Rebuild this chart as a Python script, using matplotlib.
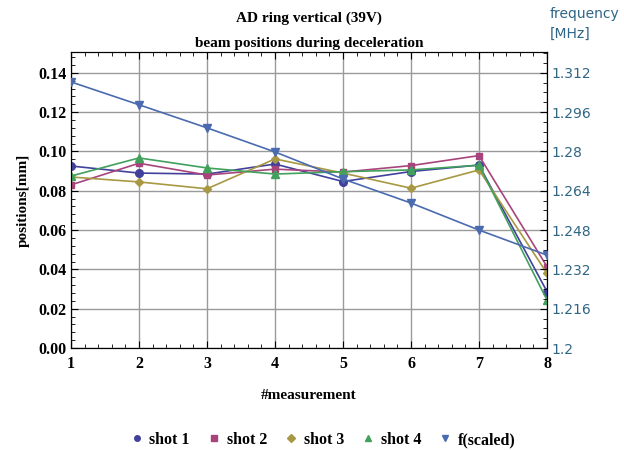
import matplotlib
matplotlib.use("Agg")
import matplotlib.pyplot as plt
from matplotlib.ticker import MultipleLocator
from matplotlib.lines import Line2D

measurement = [1, 2, 3, 4, 5, 6, 7, 8]
shot1 = [0.0926, 0.0890, 0.0885, 0.0936, 0.0847, 0.0898, 0.0931, 0.0287]
shot2 = [0.0830, 0.0940, 0.0880, 0.0910, 0.0895, 0.0928, 0.0979, 0.0414]
shot3 = [0.0870, 0.0845, 0.0810, 0.0962, 0.0890, 0.0813, 0.0906, 0.0380]
shot4 = [0.0875, 0.0967, 0.0916, 0.0885, 0.0897, 0.0906, 0.0930, 0.0244]
freq_mhz = [1.3083, 1.2990, 1.2896, 1.2798, 1.2688, 1.2590, 1.2480, 1.2378]
series_names = ["shot 1", "shot 2", "shot 3", "shot 4", "f(scaled)"]
left_ticks = [0.0, 0.02, 0.04, 0.06, 0.08, 0.10, 0.12, 0.14]
right_ticks = [1.2, 1.216, 1.232, 1.248, 1.264, 1.28, 1.296, 1.312]

colors = ["#41419c", "#a8447c", "#a89843", "#41a05c", "#4a6bb0"]
markers = ["o", "s", "D", "^", "v"]
msizes = [5.5, 5, 4.5, 5.5, 5.5]

serif = ["Liberation Serif", "DejaVu Serif"]
teal = "#2f6585"

fig = plt.figure(figsize=(6.24, 4.5), dpi=100)
ax = fig.add_axes([71/624, 1-348/450, (547-71)/624, (348-52)/450])
ymax = 0.1506

ax2 = ax.twinx()

for ys, c, m, ms in zip([shot1, shot2, shot3, shot4], colors[:4], markers[:4], msizes[:4]):
    ax.plot(measurement, ys, color=c, lw=1.2, marker=m, ms=ms, zorder=3)
ax2.plot(measurement, freq_mhz, color=colors[4], lw=1.2, marker=markers[4], ms=msizes[4], zorder=3)

ax.set_xticks(measurement, [str(v) for v in measurement],
              family=serif, fontweight="bold", fontsize=11.5)
ax.set_yticks(left_ticks, ["%.2f" % v for v in left_ticks],
              family=serif, fontweight="bold", fontsize=11.5)
ax.xaxis.set_minor_locator(MultipleLocator(0.2))
ax.yaxis.set_minor_locator(MultipleLocator(0.004))
ax.set_xlim(1, 8)
ax.set_ylim(0, ymax)
ax.grid(True, color="#9a9a9a", lw=1.0)
ax.set_axisbelow(True)
ax.tick_params(which="both", direction="in", top=True, right=False)
ax.tick_params(which="major", length=5)
ax.tick_params(which="minor", length=3)
ax.tick_params(axis="x", pad=6)

ax2.set_yticks(right_ticks, ["%g" % v for v in right_ticks],
               family="DejaVu Sans", fontsize=10, color=teal)
ax2.yaxis.set_minor_locator(MultipleLocator(0.004))
ax2.set_ylim(1.2, 1.2 + 0.8 * ymax)
ax2.tick_params(which="both", direction="in")
ax2.tick_params(which="major", length=5)
ax2.tick_params(which="minor", length=3)

ax.set_xlabel("#measurement", fontsize=11, fontweight="bold", family=serif, labelpad=12)
ax.set_ylabel("positions[mm]", fontsize=11, fontweight="bold", family=serif, labelpad=6)

fig.text(309/624, 1-18/450, "AD ring vertical (39V)", ha="center", va="center",
         fontsize=11, fontweight="bold", family=serif)
fig.text(309/624, 1-43/450, "beam positions during deceleration", ha="center", va="center",
         fontsize=11, fontweight="bold", family=serif)
fig.text(550/624, 1-24/450, "frequency\n[MHz]", ha="left", va="center", fontsize=10,
         color=teal, linespacing=1.5, family="DejaVu Sans")

handles = [Line2D([], [], ls="none", marker=m, color=c, ms=4) for m, c in zip(markers, colors)]
fig.legend(handles, series_names, loc="center", bbox_to_anchor=(322/624, 1-440/450), ncol=5,
           frameon=False, prop={"family": serif, "weight": "bold", "size": 11.5},
           handletextpad=0.3, columnspacing=1.0, handlelength=1.0)

fig.savefig("out.png", dpi=100)
